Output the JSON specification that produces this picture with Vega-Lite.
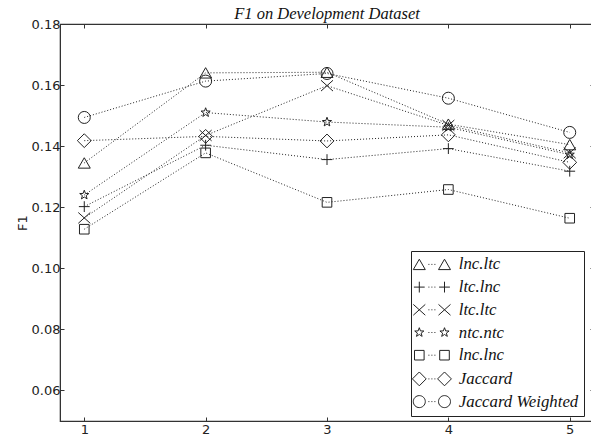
{
  "$schema": "https://vega.github.io/schema/vega-lite/v6.json",
  "autosize": "none",
  "padding": {"left": 60, "top": 24, "right": 0, "bottom": 17},
  "width": 534,
  "height": 397,
  "background": "white",
  "config": {
    "view": {"stroke": "#333", "strokeWidth": 1.2},
    "axis": {
      "grid": false,
      "domainColor": "#333",
      "tickColor": "#333",
      "tickSize": -4,
      "labelFont": "DejaVu Sans",
      "labelFontSize": 13,
      "labelColor": "#222",
      "titleFont": "DejaVu Sans",
      "titleFontSize": 13,
      "titleFontWeight": "normal",
      "titleColor": "#222"
    }
  },
  "title": {
    "text": "F1 on Development Dataset",
    "font": "Liberation Serif",
    "fontStyle": "italic",
    "fontWeight": "normal",
    "fontSize": 16.5,
    "color": "#111",
    "offset": -4
  },
  "data": {
    "values": [
      {"x": 1, "method": "lnc.ltc", "f1": 0.1345},
      {"x": 2, "method": "lnc.ltc", "f1": 0.1640},
      {"x": 3, "method": "lnc.ltc", "f1": 0.1642},
      {"x": 4, "method": "lnc.ltc", "f1": 0.1472},
      {"x": 5, "method": "lnc.ltc", "f1": 0.1405},
      {"x": 1, "method": "ltc.lnc", "f1": 0.1202},
      {"x": 2, "method": "ltc.lnc", "f1": 0.1403},
      {"x": 3, "method": "ltc.lnc", "f1": 0.1356},
      {"x": 4, "method": "ltc.lnc", "f1": 0.1392},
      {"x": 5, "method": "ltc.lnc", "f1": 0.1318},
      {"x": 1, "method": "ltc.ltc", "f1": 0.1165},
      {"x": 2, "method": "ltc.ltc", "f1": 0.1435},
      {"x": 3, "method": "ltc.ltc", "f1": 0.1598},
      {"x": 4, "method": "ltc.ltc", "f1": 0.1468},
      {"x": 5, "method": "ltc.ltc", "f1": 0.1378},
      {"x": 1, "method": "ntc.ntc", "f1": 0.1240},
      {"x": 2, "method": "ntc.ntc", "f1": 0.1510},
      {"x": 3, "method": "ntc.ntc", "f1": 0.1479},
      {"x": 4, "method": "ntc.ntc", "f1": 0.1462},
      {"x": 5, "method": "ntc.ntc", "f1": 0.1372},
      {"x": 1, "method": "lnc.lnc", "f1": 0.1128},
      {"x": 2, "method": "lnc.lnc", "f1": 0.1378},
      {"x": 3, "method": "lnc.lnc", "f1": 0.1216},
      {"x": 4, "method": "lnc.lnc", "f1": 0.1258},
      {"x": 5, "method": "lnc.lnc", "f1": 0.1164},
      {"x": 1, "method": "Jaccard", "f1": 0.1418},
      {"x": 2, "method": "Jaccard", "f1": 0.1432},
      {"x": 3, "method": "Jaccard", "f1": 0.1417},
      {"x": 4, "method": "Jaccard", "f1": 0.1437},
      {"x": 5, "method": "Jaccard", "f1": 0.1347},
      {"x": 1, "method": "Jaccard Weighted", "f1": 0.1494},
      {"x": 2, "method": "Jaccard Weighted", "f1": 0.1613},
      {"x": 3, "method": "Jaccard Weighted", "f1": 0.1638},
      {"x": 4, "method": "Jaccard Weighted", "f1": 0.1557},
      {"x": 5, "method": "Jaccard Weighted", "f1": 0.1445}
    ]
  },
  "resolve": {
    "axis": {"x": "independent", "y": "independent"},
    "scale": {"shape": "independent"}
  },
  "layer": [
    {
      "mark": {"type": "line", "stroke": "#222", "strokeWidth": 1, "strokeDash": [1, 2]},
      "encoding": {
        "x": {
          "field": "x", "type": "quantitative",
          "scale": {"domain": [0.8, 5.2], "nice": false, "zero": false},
          "axis": {"values": [1, 2, 3, 4, 5], "format": "d", "title": null, "labelPadding": 6}
        },
        "y": {
          "field": "f1", "type": "quantitative",
          "scale": {"domain": [0.05, 0.18], "nice": false, "zero": false},
          "axis": {"values": [0.06, 0.08, 0.1, 0.12, 0.14, 0.16, 0.18], "format": ".2f", "title": "F1", "labelPadding": 4, "titlePadding": 2}
        },
        "detail": {"field": "method"}
      }
    },
    {
      "mark": {"type": "point", "filled": false, "stroke": "#222", "strokeWidth": 1, "size": 144, "opacity": 1},
      "encoding": {
        "x": {
          "field": "x", "type": "quantitative",
          "axis": {"orient": "top", "values": [1, 2, 3, 4, 5], "labels": false, "title": null}
        },
        "y": {
          "field": "f1", "type": "quantitative",
          "axis": {"orient": "right", "values": [0.06, 0.08, 0.1, 0.12, 0.14, 0.16, 0.18], "labels": false, "title": null}
        },
        "shape": {
          "field": "method", "type": "nominal",
          "scale": {
            "domain": ["lnc.ltc", "ltc.lnc", "ltc.ltc", "ntc.ntc", "lnc.lnc", "Jaccard", "Jaccard Weighted"],
            "range": [
              "triangle-up",
              "M-0.9,0L0.9,0M0,-0.9L0,0.9",
              "M-1,-0.9L1,0.9M-1,0.9L1,-0.9",
              "M0,-0.8L0.194,-0.267L0.761,-0.247L0.314,0.102L0.47,0.647L0,0.33L-0.47,0.647L-0.314,0.102L-0.761,-0.247L-0.194,-0.267Z",
              "M-0.8,-0.8L0.8,-0.8L0.8,0.8L-0.8,0.8Z",
              "M-1.15,0L0,-1.15L1.15,0L0,1.15Z",
              "circle"
            ]
          },
          "legend": null
        }
      }
    },
    {
      "mark": {"type": "point", "filled": false, "stroke": "#222", "strokeWidth": 1, "size": 0},
      "encoding": {
        "x": {"field": "x", "type": "quantitative", "axis": null},
        "y": {"field": "f1", "type": "quantitative", "axis": null},
        "shape": {
          "field": "method", "type": "nominal",
          "scale": {
            "domain": ["lnc.ltc", "ltc.lnc", "ltc.ltc", "ntc.ntc", "lnc.lnc", "Jaccard", "Jaccard Weighted"],
            "range": [
              "M-2.1,-0.866L-3.1,0.866L-1.1,0.866ZM2.1,-0.866L1.1,0.866L3.1,0.866ZM-0.58,0L-0.42,0M-0.08,0L0.08,0M0.42,0L0.58,0",
              "M-3,0L-1.2,0M-2.1,-0.9L-2.1,0.9M1.2,0L3,0M2.1,-0.9L2.1,0.9M-0.58,0L-0.42,0M-0.08,0L0.08,0M0.42,0L0.58,0",
              "M-3.1,-0.9L-1.1,0.9M-3.1,0.9L-1.1,-0.9M1.1,-0.9L3.1,0.9M1.1,0.9L3.1,-0.9M-0.58,0L-0.42,0M-0.08,0L0.08,0M0.42,0L0.58,0",
              "M-2.1,-0.8L-1.906,-0.267L-1.339,-0.247L-1.786,0.102L-1.63,0.647L-2.1,0.33L-2.57,0.647L-2.414,0.102L-2.861,-0.247L-2.294,-0.267ZM2.1,-0.8L2.294,-0.267L2.861,-0.247L2.414,0.102L2.57,0.647L2.1,0.33L1.63,0.647L1.786,0.102L1.339,-0.247L1.906,-0.267ZM-0.58,0L-0.42,0M-0.08,0L0.08,0M0.42,0L0.58,0",
              "M-2.9,-0.8L-1.3,-0.8L-1.3,0.8L-2.9,0.8ZM1.3,-0.8L2.9,-0.8L2.9,0.8L1.3,0.8ZM-0.58,0L-0.42,0M-0.08,0L0.08,0M0.42,0L0.58,0",
              "M-3.25,0L-2.1,-1.15L-0.95,0L-2.1,1.15ZM0.95,0L2.1,-1.15L3.25,0L2.1,1.15ZM-0.58,0L-0.42,0M-0.08,0L0.08,0M0.42,0L0.58,0",
              "M-1.1,0A1,1 0 1,1 -3.1,0A1,1 0 1,1 -1.1,0ZM3.1,0A1,1 0 1,1 1.1,0A1,1 0 1,1 3.1,0ZM-0.58,0L-0.42,0M-0.08,0L0.08,0M0.42,0L0.58,0"
            ]
          },
          "legend": {
            "title": null,
            "orient": "none",
            "legendX": 351,
            "legendY": 227,
            "strokeColor": "#222",
            "fillColor": "white",
            "padding": 5,
            "cornerRadius": 0,
            "symbolSize": 144,
            "symbolStrokeColor": "#222",
            "symbolFillColor": "transparent",
            "symbolStrokeWidth": 1,
            "symbolOpacity": 1,
            "labelFont": "Liberation Serif",
            "labelFontStyle": "italic",
            "labelFontSize": 16.8,
            "labelColor": "#111",
            "labelOffset": 18.5,
            "labelLimit": 200,
            "rowPadding": 4.7,
            "symbolOffset": 7.5
          }
        }
      }
    }
  ]
}
